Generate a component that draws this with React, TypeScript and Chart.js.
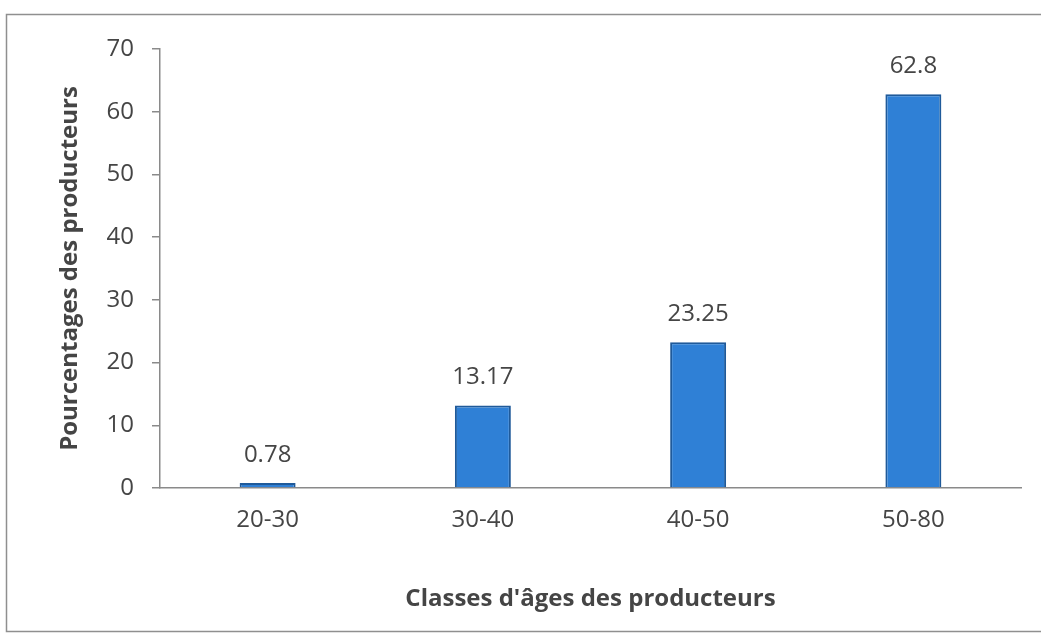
import React, { useEffect, useRef } from "react";
import { Chart, registerables } from "chart.js";

Chart.register(...registerables);

const categories = ["20-30", "30-40", "40-50", "50-80"];
const percentages = [0.78, 13.17, 23.25, 62.8];
const valueLabels = ["0.78", "13.17", "23.25", "62.8"];
const yTicks = [0, 10, 20, 30, 40, 50, 60, 70];
const xTitle = "Classes d'âges des producteurs";
const yTitle = "Pourcentages des producteurs";

const FONT = "'Open Sans', 'Liberation Sans', sans-serif";
const TEXT = "#454545";
const AXIS = "#8a8a8a";

const frame = {
  id: "frame",
  beforeDraw(chart: any) {
    const ctx = chart.ctx;
    ctx.save();
    ctx.fillStyle = "#ffffff";
    ctx.fillRect(0, 0, chart.width, chart.height);
    ctx.strokeStyle = "#8f8f8f";
    ctx.lineWidth = 1.5;
    ctx.beginPath();
    ctx.moveTo(chart.width + 5, 14.5);
    ctx.lineTo(6.5, 14.5);
    ctx.lineTo(6.5, 631.5);
    ctx.lineTo(chart.width + 5, 631.5);
    ctx.stroke();
    ctx.restore();
  },
};

const valueLabelPlugin = {
  id: "valueLabels",
  afterDatasetsDraw(chart: any) {
    const ctx = chart.ctx;
    const meta = chart.getDatasetMeta(0);
    ctx.save();
    ctx.font = `24px ${FONT}`;
    ctx.fillStyle = TEXT;
    ctx.textAlign = "center";
    ctx.textBaseline = "middle";
    meta.data.forEach((bar: any, i: number) => {
      ctx.fillText(valueLabels[i], bar.x, bar.y - 28);
    });
    ctx.restore();
  },
};

export default function App() {
  const ref = useRef<HTMLCanvasElement | null>(null);

  useEffect(() => {
    if (!ref.current) return;
    const chart = new Chart(ref.current, {
      type: "bar",
      data: {
        labels: categories,
        datasets: [
          {
            data: percentages,
            backgroundColor: "#2f80d6",
            borderColor: "#1f5a9a",
            borderWidth: 2,
            barPercentage: 0.26,
            categoryPercentage: 1,
          },
        ],
      },
      options: {
        animation: false,
        responsive: false,
        maintainAspectRatio: false,
        layout: { padding: { top: 49, right: 20, bottom: 0, left: 46 } },
        plugins: {
          legend: { display: false },
          tooltip: { enabled: false },
        },
        scales: {
          x: {
            grid: { display: false, drawTicks: false },
            border: { display: true, color: AXIS, width: 1.5 },
            ticks: {
              color: TEXT,
              font: { family: FONT, size: 24 },
              padding: 18,
            },
            title: {
              display: true,
              text: xTitle,
              color: TEXT,
              font: { family: FONT, size: 24, weight: "bold" },
              padding: { top: 0, bottom: 30 },
            },
            afterFit(scale: any) {
              scale.height = 156;
            },
          },
          y: {
            min: 0,
            max: 70,
            afterBuildTicks(scale: any) {
              scale.ticks = yTicks.map((v) => ({ value: v }));
            },
            grid: {
              display: true,
              drawOnChartArea: false,
              drawTicks: true,
              tickLength: 8,
              color: AXIS,
              lineWidth: 1.5,
            },
            border: { display: true, color: AXIS, width: 1.5 },
            ticks: {
              color: TEXT,
              font: { family: FONT, size: 24 },
              padding: 18,
            },
            title: {
              display: true,
              text: yTitle,
              color: TEXT,
              font: { family: FONT, size: 24, weight: "bold" },
              padding: { top: 10, bottom: 0 },
            },
            afterFit(scale: any) {
              scale.width = 114;
            },
          },
        },
      },
      plugins: [frame, valueLabelPlugin],
    });
    return () => chart.destroy();
  }, []);

  return (
    <div style={{ position: "fixed", left: 0, top: 0, width: 1041, height: 644 }}>
      <canvas ref={ref} width={1041} height={644} style={{ width: 1041, height: 644, display: "block" }} />
    </div>
  );
}
